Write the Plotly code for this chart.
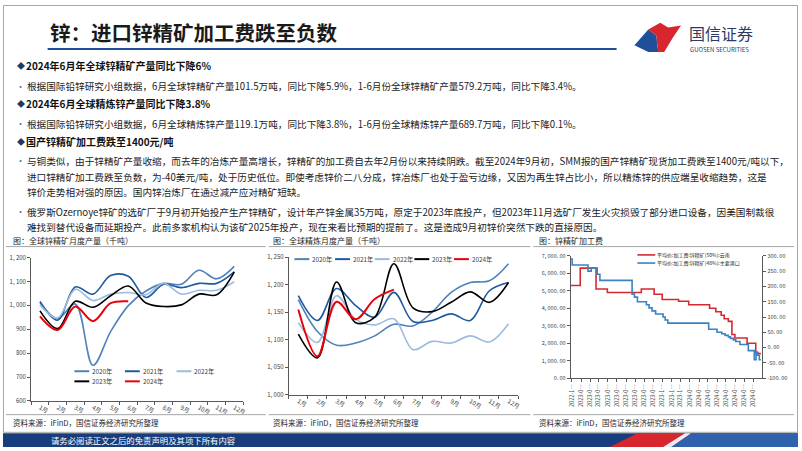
import plotly.graph_objects as go

W, H = 802, 451
FONT = "Noto Sans CJK SC"


def X(p):
    return p / W


def Y(p):
    return 1 - p / H


# ---------------- data ----------------
months = ["1月", "2月", "3月", "4月", "5月", "6月", "7月", "8月", "9月", "10月", "11月", "12月"]
year_names = ["2020年", "2021年", "2022年", "2023年", "2024年"]
year_colors = ["#4f81bd", "#1f5aa0", "#9dbadf", "#000000", "#e8000b"]

mine_2020 = [1012, 945, 1006, 749, 890, 999, 1060, 1092, 1088, 1147, 1111, 1163]
mine_2021 = [1016, 938, 1077, 1047, 1125, 1122, 1033, 1088, 1074, 1092, 1092, 1140]
mine_2022 = [1002, 947, 1067, 1020, 1047, 1054, 1045, 1092, 1047, 1063, 1063, 1099]
mine_2023 = [977, 903, 1017, 992, 1040, 1081, 1010, 995, 1002, 1047, 1044, 1140]
mine_2024 = [954, 897, 995, 934, 1009, 1017]
mine_ticks = [600, 700, 800, 900, 1000, 1100, 1200]
mine_tick_text = ["600", "700", "800", "900", "1, 000", "1, 100", "1, 200"]

ref_2020 = [1173, 1115, 1090, 1094, 1107, 1128, 1125, 1150, 1186, 1204, 1207, 1238]
ref_2021 = [1180, 1135, 1193, 1162, 1141, 1186, 1133, 1135, 1147, 1135, 1189, 1204]
ref_2022 = [1131, 1095, 1180, 1137, 1127, 1138, 1082, 1097, 1094, 1107, 1096, 1129]
ref_2023 = [1110, 1067, 1205, 1131, 1141, 1238, 1158, 1151, 1168, 1187, 1168, 1204]
ref_2024 = [1155, 1070, 1169, 1137, 1174, 1191]
ref_ticks = [1000, 1050, 1100, 1150, 1200, 1250]
ref_tick_text = ["1, 000", "1, 050", "1, 100", "1, 150", "1, 200", "1, 250"]

yn_name = "平均价:加工费:锌精矿(50%):云南"
yn_dates = ["2022-11-27", "2022-12-29", "2023-02-20", "2023-03-30", "2023-07-22", "2023-09-03",
            "2023-09-30", "2023-11-24", "2023-12-28", "2024-03-07", "2024-03-28", "2024-04-15",
            "2024-04-25", "2024-05-09", "2024-05-21", "2024-05-31", "2024-07-11", "2024-08-09",
            "2024-08-16", "2024-08-26"]
yn_fee = [5300, 6300, 5100, 4900, 5100, 4800, 4500, 4400, 4200, 4000, 3800, 3600,
          3400, 3250, 2500, 2300, 2000, 1450, 1400, 1400]

port_name = "平均价:加工费:锌精矿(48%):主要港口"
port_dates = ["2022-11-27", "2022-12-02", "2023-01-24", "2023-02-04", "2023-02-24", "2023-03-05",
              "2023-06-21", "2023-06-29", "2023-07-09", "2023-08-08", "2023-08-17", "2023-08-27",
              "2023-09-08", "2023-10-03", "2023-10-10", "2023-10-19", "2024-03-04", "2024-04-01",
              "2024-04-17", "2024-04-28", "2024-05-09", "2024-05-16", "2024-05-26", "2024-06-03",
              "2024-06-17", "2024-07-15", "2024-08-04", "2024-08-10", "2024-08-15", "2024-08-21",
              "2024-08-26"]
port_fee = [290, 270, 250, 260, 240, 220, 175, 165, 150, 140, 130, 120, 110, 100, 90, 80,
            60, 50, 45, 40, 35, 30, 25, 20, 10, -10, -40, -15, -25, -40, -40]

fee_left_ticks = [0, 1000, 2000, 3000, 4000, 5000, 6000, 7000]
fee_left_text = ["0. 00", "1, 000. 00", "2, 000. 00", "3, 000. 00", "4, 000. 00",
                 "5, 000. 00", "6, 000. 00", "7, 000. 00"]
fee_right_ticks = [-100, -50, 0, 50, 100, 150, 200, 250, 300]
fee_right_text = ["-100. 00", "-50. 00", "0. 00", "50. 00", "100. 00", "150. 00",
                  "200. 00", "250. 00", "300. 00"]
fee_tick_dates = ["2022-12-01", "2023-01-01", "2023-02-01", "2023-03-01", "2023-04-01",
                  "2023-05-01", "2023-06-01", "2023-07-01", "2023-08-01", "2023-09-01",
                  "2023-10-01", "2023-11-01", "2023-12-01", "2024-01-01", "2024-02-01",
                  "2024-03-01", "2024-04-01", "2024-05-01", "2024-06-01", "2024-07-01",
                  "2024-08-01"]
fee_tick_text = ["2022-1…", "2023-0…", "2023-0…", "2023-0…", "2023-0…", "2023-0…",
                 "2023-0…", "2023-0…", "2023-0…", "2023-0…", "2023-1…", "2023-1…",
                 "2023-1…", "2024-0…", "2024-0…", "2024-0…", "2024-0…", "2024-0…",
                 "2024-0…", "2024-0…", "2024-0…"]

# ---------------- figure ----------------
fig = go.Figure()

mine_series = [mine_2020, mine_2021, mine_2022, mine_2023, mine_2024]
ref_series = [ref_2020, ref_2021, ref_2022, ref_2023, ref_2024]
for name, color, vals in zip(year_names, year_colors, mine_series):
    fig.add_trace(go.Scatter(x=months[:len(vals)], y=vals, name=name, mode="lines",
                             line=dict(color=color, width=2 if color == "#e8000b" else 1.6,
                                       shape="spline", smoothing=1.0),
                             xaxis="x", yaxis="y", showlegend=False, hoverinfo="skip"))
for name, color, vals in zip(year_names, year_colors, ref_series):
    fig.add_trace(go.Scatter(x=months[:len(vals)], y=vals, name=name, mode="lines",
                             line=dict(color=color, width=2 if color == "#e8000b" else 1.6,
                                       shape="spline", smoothing=1.0),
                             xaxis="x2", yaxis="y2", showlegend=False, hoverinfo="skip"))

fig.add_trace(go.Scatter(x=yn_dates, y=yn_fee, name=yn_name, mode="lines",
                         line=dict(color="#d42a2f", width=1.6, shape="hv"),
                         xaxis="x3", yaxis="y3", showlegend=False, hoverinfo="skip"))
fig.add_trace(go.Scatter(x=port_dates, y=port_fee, name=port_name, mode="lines",
                         line=dict(color="#3b82c4", width=1.6, shape="hv"),
                         xaxis="x3", yaxis="y4", showlegend=False, hoverinfo="skip"))

axis_common = dict(showline=True, linecolor="#595959", linewidth=1, ticks="outside",
                   ticklen=3, tickcolor="#595959", tickwidth=1, showgrid=False,
                   zeroline=False, fixedrange=True,
                   tickfont=dict(family=FONT, size=6, color="#404040"))

fig.update_layout(
    width=W, height=H, margin=dict(l=0, r=0, t=0, b=0), autosize=False,
    paper_bgcolor="white", plot_bgcolor="white", showlegend=False,
    xaxis=dict(axis_common, domain=[X(28.4), X(242.2)], anchor="y", type="category",
               categoryorder="array", categoryarray=months, range=[-0.5, 11.5],
               tickson="boundaries"),
    yaxis=dict(axis_common, domain=[Y(404), Y(257.7)], anchor="x", range=[600, 1200],
               tickmode="array", tickvals=mine_ticks, ticktext=mine_tick_text),
    xaxis2=dict(axis_common, domain=[X(288.3), X(519.6)], anchor="y2", type="category",
                categoryorder="array", categoryarray=months, range=[-0.5, 11.5],
                tickson="boundaries"),
    yaxis2=dict(axis_common, domain=[Y(397.7), Y(257.3)], anchor="x2", range=[1000, 1250],
                tickmode="array", tickvals=ref_ticks, ticktext=ref_tick_text),
    xaxis3=dict(axis_common, domain=[X(572.7), X(766)], anchor="y3", type="date",
                range=["2022-11-27", "2024-08-31"], tickmode="array",
                tickvals=fee_tick_dates, ticktext=fee_tick_text, tickangle=-90,
                tickfont=dict(family=FONT, size=5.5, color="#404040")),
    yaxis3=dict(axis_common, domain=[Y(380.7), Y(256)], anchor="x3", range=[0, 7000],
                tickmode="array", tickvals=fee_left_ticks, ticktext=fee_left_text,
                tickfont=dict(family=FONT, size=5.5, color="#404040")),
    yaxis4=dict(axis_common, overlaying="y3", side="right", anchor="x3", range=[-100, 300],
                tickmode="array", tickvals=fee_right_ticks, ticktext=fee_right_text,
                tickfont=dict(family=FONT, size=5.5, color="#404040")),
)

shapes = []
anns = []


def line(x0, y0, x1, y1, color, width=1):
    shapes.append(dict(type="line", xref="paper", yref="paper", x0=X(x0), y0=Y(y0),
                       x1=X(x1), y1=Y(y1), line=dict(color=color, width=width)))


def poly(pts, color):
    d = "M " + " L ".join(f"{X(a):.5f},{Y(b):.5f}" for a, b in pts) + " Z"
    shapes.append(dict(type="path", xref="paper", yref="paper", path=d,
                       fillcolor=color, line=dict(width=0)))


def text(x, y, s, size, color="#222222", bold=False, xanchor="left", yanchor="middle"):
    anns.append(dict(x=X(x), y=Y(y), xref="paper", yref="paper",
                     text=f"<b>{s}</b>" if bold else s, showarrow=False,
                     xanchor=xanchor, yanchor=yanchor, borderpad=0,
                     font=dict(family=FONT, size=size, color=color)))


# slide frame
shapes.append(dict(type="rect", xref="paper", yref="paper", x0=X(0.5), y0=Y(436),
                   x1=X(801.5), y1=Y(0.5), line=dict(color="#a6a6a6", width=1)))

# header
text(46, 28, "锌：进口锌精矿加工费跌至负数", 20.5, "#1a1a1a", bold=True)
line(45, 45, 619, 45, "#1f4e9a", 2)
poly([(637, 41), (651, 25), (659, 31), (661, 48), (651, 48)], "#1f4e9a")
poly([(651, 25), (663, 18), (671, 23), (684, 21), (676, 33), (667, 48), (661, 48), (659, 31)],
     "#d7262d")
text(691, 29, "国信证券", 16, "#2b3a67")
text(692, 45.5, "GUOSEN SECURITIES", 6, "#2b3a67")

# body text
DIA = "#1f3864"
BUL = "#4f6fa0"
BODY = 9.65
text(13, 62, "◆", 8, DIA)
text(22, 62, "2024年6月年全球锌精矿产量同比下降6%", 10, "#111111", bold=True)
text(12, 83, "•", 9, BUL)
text(23, 83, "根据国际铅锌研究小组数据，6月全球锌精矿产量101.5万吨，同比下降5.9%，1-6月份全球锌精矿产量579.2万吨，同比下降3.4%。", BODY)
text(13, 101, "◆", 8, DIA)
text(22, 101, "2024年6月全球精炼锌产量同比下降3.8%", 10, "#111111", bold=True)
text(12, 121, "•", 9, BUL)
text(23, 121, "根据国际铅锌研究小组数据，6月全球精炼锌产量119.1万吨，同比下降3.8%，1-6月份全球精炼锌产量689.7万吨，同比下降0.1%。", BODY)
text(13, 139, "◆", 8, DIA)
text(22, 139, "国产锌精矿加工费跌至1400元/吨", 10, "#111111", bold=True)

para1 = ["与铜类似，由于锌精矿产量收缩，而去年的冶炼产量高增长，锌精矿的加工费自去年2月份以来持续阴跌。截至2024年9月初，SMM报的国产锌精矿现货加工费跌至1400元/吨以下，",
         "进口锌精矿加工费跌至负数，为-40美元/吨，处于历史低位。即使考虑锌价二八分成，锌冶炼厂也处于盈亏边缘，又因为再生锌占比小，所以精炼锌的供应端呈收缩趋势，这是",
         "锌价走势相对强的原因。国内锌冶炼厂在通过减产应对精矿短缺。"]
para2 = ["俄罗斯Ozernoye锌矿的选矿厂于9月初开始投产生产锌精矿，设计年产锌金属35万吨，原定于2023年底投产，但2023年11月选矿厂发生火灾损毁了部分进口设备，因美国制裁很",
         "难找到替代设备而延期投产。此前多家机构认为该矿2025年投产，现在来看比预期的提前了。这是造成9月初锌价突然下跌的直接原因。"]
p1_y = [159, 175, 191]
p2_y = [211, 227]
text(12, p1_y[0], "•", 9, BUL)
for yy, s in zip(p1_y, para1):
    text(23, yy, s, BODY)
text(12, p2_y[0], "•", 9, BUL)
for yy, s in zip(p2_y, para2):
    text(23, yy, s, BODY)

# chart titles / separators / sources
SEP = "#a6a6a6"
chart_titles = ["图：全球锌精矿月度产量（千吨）", "图：全球精炼月度产量（千吨）", "图：锌精矿加工费"]
title_x = [9, 271, 540]
sep_x = [(3, 265), (268, 532), (535, 798)]
source = "资料来源：iFinD，国信证券经济研究所整理"
for tx, (s0, s1), t in zip(title_x, sep_x, chart_titles):
    text(tx, 240, t, 8, "#262626")
    line(s0, 246.5, s1, 246.5, SEP, 1)
    line(s0, 418, s1, 418, SEP, 1)
    text(tx, 426.5, source, 7.5, "#262626")

# legends (chart 1: two rows, chart 2: one row, chart 3: two rows)
leg1 = [(72, 373.7), (123, 373.7), (175, 373.7), (72, 384), (123, 384)]
for (lx, ly), name, color in zip(leg1, year_names, year_colors):
    line(lx, ly, lx + 15, ly, color, 2)
    text(lx + 17, ly, name, 6.3, "#404040")
leg2 = [(294, 259.3), (335, 259.3), (375, 259.3), (415, 259.3), (455, 259.3)]
for (lx, ly), name, color in zip(leg2, year_names, year_colors):
    line(lx, ly, lx + 15, ly, color, 2)
    text(lx + 17, ly, name, 6.3, "#404040")
leg3 = [(640, 255), (640, 263.3)]
for (lx, ly), name, color in zip(leg3, [yn_name, port_name], ["#d42a2f", "#3b82c4"]):
    line(lx, ly, lx + 18, ly, color, 1.6)
    text(lx + 19, ly, name, 5, "#262626")

# bottom band
poly([(0, 437), (802, 437), (802, 451), (0, 451)], "#183d7d")
poly([(672, 451), (692, 437), (802, 437), (802, 451)], "#2f61ad")
poly([(612, 451), (640, 437), (694, 437), (674, 451)], "#d7262d")
poly([(666, 451), (688, 437), (694, 437), (674, 451)], "#e9eef6")
text(47, 444, "请务必阅读正文之后的免责声明及其项下所有内容", 8.4, "#ffffff")

fig.update_layout(shapes=shapes, annotations=anns)
fig.write_html("out.html", config={"displayModeBar": False},
               post_script="document.body.style.margin='0px';document.body.style.padding='0px';"
                           "document.documentElement.style.overflow='hidden';")
